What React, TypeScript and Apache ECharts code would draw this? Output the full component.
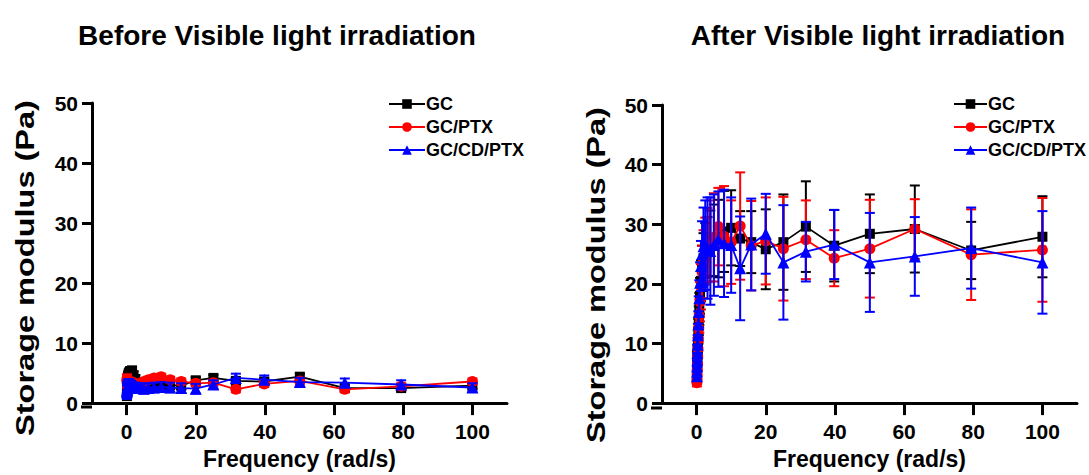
import React, { useEffect, useRef } from "react";
import * as echarts from "echarts";

const FREQ = [0.1, 0.126, 0.158, 0.2, 0.251, 0.316, 0.398, 0.501, 0.631, 0.794, 1, 1.26, 1.58, 2, 2.51, 3.16, 3.98, 5.01, 6.31, 7.94, 10, 12.6, 15.8, 20, 25.1, 31.6, 39.8, 50.1, 63.1, 79.4, 100];

const X_TICKS = [0, 20, 40, 60, 80, 100];

const SERIES_NAMES = ["GC", "GC/PTX", "GC/CD/PTX"];
const COLORS = ["#000000", "#ff0000", "#0000ff"];
const SYMBOLS = ["rect", "circle", "triangle"];
const SYMBOL_SIZES = [10, 11, 12];

// Before visible light irradiation
const GC_BEFORE = [1.5, 2.0, 2.5, 3.0, 3.4, 3.8, 4.2, 4.5, 4.8, 5.0, 5.2, 5.3, 5.4, 4.6, 4.0, 3.5, 3.2, 3.0, 2.9, 3.0, 3.1, 3.0, 2.9, 3.8, 4.2, 3.7, 3.6, 4.4, 2.5, 2.5, 2.9];
const GC_BEFORE_SD = [1.0, 1.0, 1.0, 0.9, 0.9, 0.9, 0.8, 0.8, 0.8, 0.8, 0.8, 0.7, 0.7, 0.7, 0.7, 0.6, 0.6, 0.6, 0.6, 0.6, 0.6, 0.6, 0.6, 0.5, 0.5, 0.5, 0.5, 0.5, 0.5, 0.5, 0.5];
const PTX_BEFORE = [4.0, 3.8, 3.6, 3.4, 3.3, 3.2, 3.3, 3.4, 3.5, 3.6, 3.6, 3.5, 3.4, 3.3, 3.2, 3.1, 3.3, 3.6, 3.9, 4.2, 4.4, 3.9, 3.6, 3.3, 3.4, 2.3, 3.2, 3.7, 2.3, 2.8, 3.6];
const PTX_BEFORE_SD = [0.8, 0.8, 0.8, 0.7, 0.7, 0.7, 0.7, 0.6, 0.6, 0.6, 0.6, 0.6, 0.6, 0.6, 0.5, 0.5, 0.5, 0.5, 0.5, 0.5, 0.5, 0.5, 0.5, 0.5, 0.5, 0.5, 0.5, 0.5, 0.5, 0.5, 0.5];
const CD_BEFORE = [1.8, 2.0, 2.2, 2.4, 2.6, 2.8, 2.9, 3.0, 3.1, 3.0, 2.9, 2.8, 2.7, 2.6, 2.6, 2.5, 2.5, 2.4, 2.5, 2.6, 2.7, 2.6, 2.5, 2.4, 3.1, 4.2, 3.9, 3.5, 3.4, 3.1, 2.6];
const CD_BEFORE_SD = [1.1, 1.1, 1.0, 1.0, 1.0, 1.0, 0.9, 0.9, 0.9, 0.9, 0.9, 0.9, 0.8, 0.8, 0.8, 0.8, 0.8, 0.8, 0.8, 0.8, 0.8, 0.8, 0.8, 0.8, 0.7, 0.7, 0.7, 0.7, 0.7, 0.7, 0.7];

// After visible light irradiation
const GC_AFTER = [5.0, 5.8, 6.5, 7.3, 8.2, 9.2, 10.5, 12.0, 13.8, 15.8, 18.0, 20.5, 22.6, 24.3, 25.6, 26.2, 26.8, 27.3, 27.6, 28.8, 29.4, 27.6, 27.0, 25.8, 27.0, 29.6, 26.4, 28.4, 29.2, 25.6, 27.9];
const GC_AFTER_SD = [1.0, 1.1, 1.2, 1.3, 1.5, 1.7, 1.9, 2.1, 2.4, 2.7, 3.0, 3.4, 3.8, 4.2, 4.6, 5.0, 5.5, 6.0, 6.5, 6.8, 6.3, 4.6, 5.2, 6.7, 8.0, 7.6, 6.0, 6.6, 7.3, 4.8, 6.8];
const PTX_AFTER = [3.4, 4.0, 4.8, 5.6, 6.6, 7.8, 9.2, 10.8, 12.6, 14.6, 17.0, 19.5, 22.0, 24.0, 25.5, 26.5, 27.2, 27.8, 29.6, 28.0, 27.0, 29.7, 26.4, 27.2, 25.9, 27.4, 24.3, 25.9, 29.2, 24.9, 25.7];
const PTX_AFTER_SD = [0.6, 0.7, 0.8, 1.0, 1.2, 1.4, 1.7, 2.0, 2.4, 2.8, 3.3, 3.8, 4.4, 5.0, 5.6, 6.2, 6.8, 7.4, 6.5, 8.4, 7.0, 9.0, 7.5, 7.3, 8.7, 6.6, 4.7, 8.2, 5.0, 7.6, 8.7];
const CD_AFTER = [4.5, 5.3, 6.2, 7.2, 8.4, 9.8, 11.4, 13.2, 15.3, 17.6, 20.2, 23.0, 25.0, 26.3, 26.5, 26.0, 25.5, 26.5, 27.5, 26.8, 26.5, 22.6, 26.6, 28.4, 23.6, 25.4, 26.6, 23.6, 24.6, 26.0, 23.6];
const CD_AFTER_SD = [0.8, 0.9, 1.0, 1.2, 1.4, 1.6, 1.9, 2.2, 2.6, 3.0, 3.4, 4.2, 5.5, 6.5, 7.5, 8.5, 9.0, 8.5, 8.0, 9.0, 8.0, 8.7, 7.7, 6.7, 9.6, 5.0, 5.8, 8.3, 6.6, 6.8, 8.6];

const TITLES = ["Before Visible light irradiation", "After Visible light irradiation"];
const X_NAME = "Frequency (rad/s)";
const Y_NAME = "Storage modulus (Pa)";

const FONT = "'Liberation Sans', Arial, sans-serif";

const GRIDS = [
  { left: 92, top: 103, width: 415, height: 304 },
  { left: 662, top: 105, width: 415, height: 303 },
];

function buildOption() {
  const panels = [
    { means: [GC_BEFORE, PTX_BEFORE, CD_BEFORE], sds: [GC_BEFORE_SD, PTX_BEFORE_SD, CD_BEFORE_SD] },
    { means: [GC_AFTER, PTX_AFTER, CD_AFTER], sds: [GC_AFTER_SD, PTX_AFTER_SD, CD_AFTER_SD] },
  ];

  const series: any[] = [];
  panels.forEach((panel, gi) => {
    panel.means.forEach((vals, si) => {
      const color = COLORS[si];
      const sd = panel.sds[si];
      series.push({
        type: "custom",
        name: SERIES_NAMES[si] + " error",
        xAxisIndex: gi,
        yAxisIndex: gi,
        z: 2 + si * 2,
        silent: true,
        data: FREQ.map((f, i) => [f, vals[i] - sd[i], vals[i] + sd[i]]),
        encode: { x: 0, y: [1, 2] },
        renderItem: (params: any, api: any) => {
          const x = api.value(0);
          const lo = api.value(1);
          const hi = api.value(2);
          const pHi = api.coord([x, hi]);
          const pLo = api.coord([x, lo]);
          const w = 5;
          const style = { stroke: color, lineWidth: 2 };
          return {
            type: "group",
            children: [
              { type: "line", shape: { x1: pHi[0], y1: pHi[1], x2: pLo[0], y2: pLo[1] }, style },
              { type: "line", shape: { x1: pHi[0] - w, y1: pHi[1], x2: pHi[0] + w, y2: pHi[1] }, style },
              { type: "line", shape: { x1: pLo[0] - w, y1: pLo[1], x2: pLo[0] + w, y2: pLo[1] }, style },
            ],
          };
        },
      });
      series.push({
        type: "line",
        name: SERIES_NAMES[si],
        xAxisIndex: gi,
        yAxisIndex: gi,
        z: 3 + si * 2,
        data: FREQ.map((f, i) => [f, vals[i]]),
        symbol: SYMBOLS[si],
        symbolSize: SYMBOL_SIZES[si],
        showAllSymbol: true,
        lineStyle: { color, width: 1.8 },
        itemStyle: { color },
      });
    });
  });

  const xAxes = GRIDS.map((_, gi) => ({
    type: "value",
    gridIndex: gi,
    min: -10,
    max: 110,
    name: X_NAME,
    nameLocation: "middle",
    nameGap: 40,
    nameTextStyle: { fontFamily: FONT, fontWeight: "bold", fontSize: 23, color: "#000" },
    splitLine: { show: false },
    axisLine: { show: true, onZero: false, lineStyle: { color: "#000", width: 3 } },
    axisTick: { show: true, length: 12, lineStyle: { color: "#000", width: 3 }, customValues: X_TICKS },
    axisLabel: { fontFamily: FONT, fontWeight: "bold", fontSize: 21, color: "#000", margin: 18, customValues: X_TICKS },
  }));

  const yAxes = GRIDS.map((_, gi) => ({
    type: "value",
    gridIndex: gi,
    min: 0,
    max: 50,
    interval: 10,
    splitLine: { show: false },
    axisLine: { show: true, onZero: false, lineStyle: { color: "#000", width: 3 } },
    axisTick: { show: true, length: 10, lineStyle: { color: "#000", width: 3 } },
    axisLabel: { fontFamily: FONT, fontWeight: "bold", fontSize: 21, color: "#000", margin: 14 },
  }));

  const legends = [
    { left: 383, top: 90, itemWidth: 36 },
    { left: 948, top: 90, itemWidth: 33 },
  ].map((pos) => ({
    ...pos,
    orient: "vertical",
    data: SERIES_NAMES,
    itemHeight: 12,
    itemGap: 5,
    textStyle: { fontFamily: FONT, fontWeight: "bold", fontSize: 18, color: "#000", padding: [0, 0, 0, -4] },
    selectedMode: false,
  }));

  const axisExtensions = GRIDS.map((g) => ({
    type: "line",
    shape: { x1: g.left - 11, y1: g.top + g.height, x2: g.left, y2: g.top + g.height },
    style: { stroke: "#000", lineWidth: 3 },
  }));

  const yNames = [
    { x: 25, y: 268 },
    { x: 596, y: 275 },
  ].map((p) => ({
    type: "text",
    x: p.x,
    y: p.y,
    rotation: Math.PI / 2,
    scaleX: 1.3,
    style: {
      text: Y_NAME,
      font: `bold 25px ${FONT}`,
      fill: "#000",
      textAlign: "center",
      textVerticalAlign: "middle",
    },
  }));

  return {
    animation: false,
    backgroundColor: "#fff",
    title: [
      { text: TITLES[0], left: 272, top: 16, textAlign: "center", textStyle: { fontFamily: FONT, fontWeight: "bold", fontSize: 28, color: "#000" } },
      { text: TITLES[1], left: 873, top: 16, textAlign: "center", textStyle: { fontFamily: FONT, fontWeight: "bold", fontSize: 28, color: "#000" } },
    ],
    grid: GRIDS,
    xAxis: xAxes,
    yAxis: yAxes,
    legend: legends,
    graphic: [...axisExtensions, ...yNames],
    series,
  };
}

export default function App() {
  const ref = useRef<HTMLDivElement>(null);
  useEffect(() => {
    if (!ref.current) return;
    const chart = echarts.init(ref.current, null, { renderer: "svg" });
    chart.setOption(buildOption() as any);
    return () => chart.dispose();
  }, []);
  return <div ref={ref} style={{ position: "fixed", left: 0, top: 0, width: 1089, height: 475 }} />;
}
